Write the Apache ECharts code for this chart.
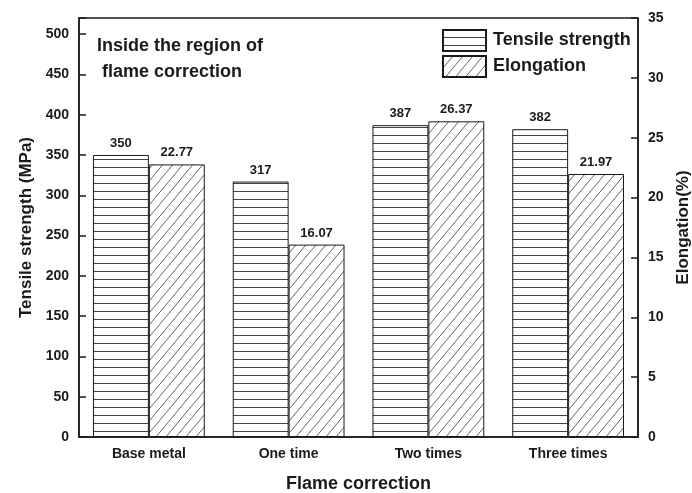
<!DOCTYPE html>
<html>
<head>
<meta charset="utf-8">
<script src="https://cdn.jsdelivr.net/npm/echarts@6/dist/echarts.min.js"></script>
<style>
html,body{margin:0;padding:0;background:#fff;}
#chart{width:692px;height:493px;}
</style>
</head>
<body>
<div id="chart"></div>
<script>
const categories = ['Base metal', 'One time', 'Two times', 'Three times'];
const tensileStrength = [350, 317, 387, 382];
const elongation = [22.77, 16.07, 26.37, 21.97];
const seriesNames = ['Tensile strength', 'Elongation'];
const annotationLines = ['Inside the region of', ' flame correction'];

const FONT = '"Liberation Sans", Arial, Helvetica, sans-serif';
const INK = '#1a1a1a';

function hPattern() {
  const c = document.createElement('canvas');
  c.width = 8; c.height = 8;
  const ctx = c.getContext('2d');
  ctx.fillStyle = '#fff'; ctx.fillRect(0, 0, 8, 8);
  ctx.strokeStyle = '#444'; ctx.lineWidth = 1;
  ctx.beginPath(); ctx.moveTo(0, 7.5); ctx.lineTo(8, 7.5); ctx.stroke();
  return c;
}
function dPattern() {
  const w = 10, h = 12;
  const c = document.createElement('canvas');
  c.width = w; c.height = h;
  const ctx = c.getContext('2d');
  ctx.fillStyle = '#fff'; ctx.fillRect(0, 0, w, h);
  ctx.strokeStyle = '#555'; ctx.lineWidth = 0.9;
  for (let k = -1; k <= 1; k++) {
    ctx.beginPath();
    ctx.moveTo(k * w - w, 2 * h);
    ctx.lineTo(k * w + 2 * w, -h);
    ctx.stroke();
  }
  return c;
}

const chart = echarts.init(document.getElementById('chart'), null, {renderer: 'canvas'});
const labelStyle = {show: true, position: 'top', distance: 5, fontFamily: FONT, fontWeight: 'bold', fontSize: 13, color: INK};

chart.setOption({
  animation: false,
  backgroundColor: '#fff',
  textStyle: {fontFamily: FONT},
  grid: {left: 79, right: 54, top: 18, bottom: 56, show: true, borderColor: INK, borderWidth: 1.5,
    backgroundColor: 'transparent', containLabel: false, outerBoundsMode: 'none'},
  legend: {
    left: 442, top: 29, padding: 0, orient: 'vertical', itemWidth: 43, itemHeight: 21, itemGap: 3,
    icon: 'rect',
    textStyle: {fontFamily: FONT, fontWeight: 'bold', fontSize: 18, color: INK, padding: [0, 0, 0, 2]},
    data: seriesNames
  },
  graphic: [
    {type: 'text', left: 97, top: 37, style: {text: annotationLines[0], font: 'bold 18px ' + FONT, fill: INK}},
    {type: 'text', left: 97, top: 63, style: {text: annotationLines[1], font: 'bold 18px ' + FONT, fill: INK}}
  ],
  xAxis: {
    type: 'category', data: categories,
    name: 'Flame correction', nameLocation: 'middle', nameGap: 38,
    nameTextStyle: {fontFamily: FONT, fontWeight: 'bold', fontSize: 18, color: INK},
    axisLine: {show: true, lineStyle: {color: INK, width: 1.5}},
    axisTick: {show: false},
    axisLabel: {fontFamily: FONT, fontWeight: 'bold', fontSize: 14, color: INK, margin: 10}
  },
  yAxis: [
    {
      type: 'value', min: 0, max: 520, interval: 50,
      name: 'Tensile strength (MPa)', nameLocation: 'middle', nameGap: 42,
      nameTextStyle: {fontFamily: FONT, fontWeight: 'bold', fontSize: 17, color: INK},
      axisLine: {show: true, lineStyle: {color: INK, width: 1.5}},
      axisTick: {show: true, inside: true, length: 7, lineStyle: {color: INK, width: 1.5}},
      axisLabel: {fontFamily: FONT, fontWeight: 'bold', fontSize: 14, color: INK, margin: 10,
        formatter: v => (v > 500 ? '' : String(v))},
      splitLine: {show: false}
    },
    {
      type: 'value', min: 0, max: 35, interval: 5, position: 'right',
      name: 'Elongation(%)', nameLocation: 'middle', nameGap: 32,
      nameTextStyle: {fontFamily: FONT, fontWeight: 'bold', fontSize: 17, color: INK},
      axisLine: {show: true, lineStyle: {color: INK, width: 1.5}},
      axisTick: {show: true, inside: true, length: 7, lineStyle: {color: INK, width: 1.5}},
      axisLabel: {fontFamily: FONT, fontWeight: 'bold', fontSize: 14, color: INK, margin: 10},
      splitLine: {show: false}
    }
  ],
  series: [
    {
      name: seriesNames[0], type: 'bar', yAxisIndex: 0, data: tensileStrength,
      barCategoryGap: '20%', barGap: '0%',
      itemStyle: {color: {image: hPattern(), repeat: 'repeat'}, borderColor: INK, borderWidth: 1},
      label: Object.assign({}, labelStyle)
    },
    {
      name: seriesNames[1], type: 'bar', yAxisIndex: 1, data: elongation,
      barCategoryGap: '20%', barGap: '0%',
      itemStyle: {color: {image: dPattern(), repeat: 'repeat'}, borderColor: INK, borderWidth: 1},
      label: Object.assign({}, labelStyle, {formatter: p => p.value.toFixed(2)})
    }
  ]
});
</script>
</body>
</html>
